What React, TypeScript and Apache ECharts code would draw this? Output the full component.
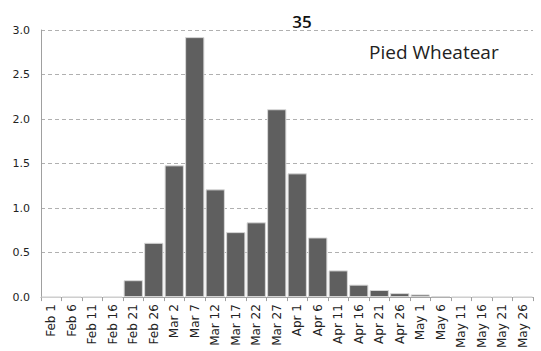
import React, { useEffect, useRef } from "react";
import * as echarts from "echarts";

const categories = [
  "Feb 1", "Feb 6", "Feb 11", "Feb 16", "Feb 21", "Feb 26",
  "Mar 2", "Mar 7", "Mar 12", "Mar 17", "Mar 22", "Mar 27",
  "Apr 1", "Apr 6", "Apr 11", "Apr 16", "Apr 21", "Apr 26",
  "May 1", "May 6", "May 11", "May 16", "May 21", "May 26",
];
const values = [
  0, 0, 0, 0, 0.19, 0.61,
  1.48, 2.92, 1.21, 0.73, 0.84, 2.11,
  1.39, 0.67, 0.3, 0.14, 0.08, 0.045,
  0.03, 0.01, 0, 0, 0, 0,
];
const yTicks = [0, 0.5, 1.0, 1.5, 2.0, 2.5, 3.0];
const titleText = "35";
const speciesText = "Pied Wheatear";

export default function App() {
  const ref = useRef<HTMLDivElement>(null);
  useEffect(() => {
    if (!ref.current) return;
    const chart = echarts.init(ref.current, null, { renderer: "svg" });
    chart.setOption({
      animation: false,
      backgroundColor: "#ffffff",
      title: {
        text: titleText,
        left: 297,
        top: 8,
        textAlign: "center",
        textStyle: { fontFamily: "Open Sans", fontSize: 17, fontWeight: 600, color: "#111" },
      },
      graphic: [
        {
          type: "text",
          left: 369,
          top: 42,
          style: { text: speciesText, fontFamily: "Open Sans", fontSize: 19, fill: "#222" },
        },
      ],
      grid: { left: 41, right: 8, top: 30, bottom: 53, containLabel: false },
      xAxis: {
        type: "category",
        data: categories,
        boundaryGap: true,
        axisLine: { show: true, lineStyle: { color: "#a0a0a0", width: 1 } },
        axisTick: { show: true, alignWithLabel: false, length: 4, lineStyle: { color: "#a0a0a0" } },
        axisLabel: {
          interval: 0,
          rotate: 90,
          fontFamily: "DejaVu Sans",
          fontSize: 12,
          color: "#222",
          margin: 7,
        },
      },
      yAxis: {
        type: "value",
        min: 0,
        max: 3,
        interval: 0.5,
        axisLine: { show: true, lineStyle: { color: "#a0a0a0", width: 1 } },
        axisTick: { show: false },
        axisLabel: {
          fontFamily: "DejaVu Sans",
          fontSize: 11,
          color: "#222",
          margin: 11,
          formatter: (v: number) => (yTicks.includes(v) ? v.toFixed(1) : ""),
        },
        splitLine: { show: true, lineStyle: { color: "#b0b0b0", type: [4, 3], width: 1 } },
      },
      series: [
        {
          type: "bar",
          data: values,
          barCategoryGap: "6%",
          itemStyle: { color: "#5f5f5f", borderColor: "#d8d8d8", borderWidth: 1 },
        },
      ],
    });
    return () => chart.dispose();
  }, []);
  return <div ref={ref} style={{ width: 541, height: 351, position: "absolute", left: 0, top: 0 }} />;
}
